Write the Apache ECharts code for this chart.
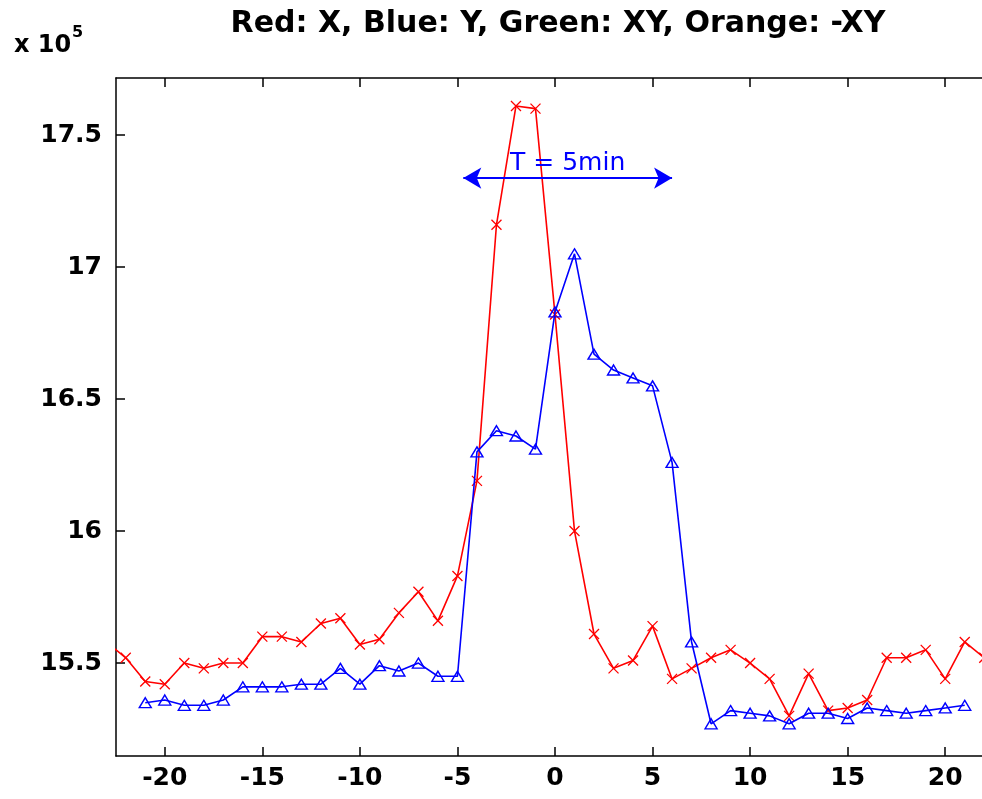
<!DOCTYPE html>
<html>
<head>
<meta charset="utf-8">
<script src="https://cdn.jsdelivr.net/npm/echarts@6/dist/echarts.min.js"></script>
<style>
  html, body { margin: 0; padding: 0; background: #fff; }
  #chart { width: 982px; height: 799px; }
</style>
</head>
<body>
<div id="chart"></div>
<script>
// Time offsets (minutes) for each trace
const timeX = [-23, -22, -21, -20, -19, -18, -17, -16, -15, -14, -13, -12, -11, -10, -9, -8, -7, -6, -5, -4, -3, -2, -1,
  0, 1, 2, 3, 4, 5, 6, 7, 8, 9, 10, 11, 12, 13, 14, 15, 16, 17, 18, 19, 20, 21, 22];
const timeY = [-21, -20, -19, -18, -17, -16, -15, -14, -13, -12, -11, -10, -9, -8, -7, -6, -5, -4, -3, -2, -1,
  0, 1, 2, 3, 4, 5, 6, 7, 8, 9, 10, 11, 12, 13, 14, 15, 16, 17, 18, 19, 20, 21];

// Values in units of 1e5
const valuesX = [15.58, 15.52, 15.43, 15.42, 15.50, 15.48, 15.50, 15.50, 15.60, 15.60, 15.58, 15.65, 15.67, 15.57, 15.59,
  15.69, 15.77, 15.66, 15.83, 16.19, 17.16, 17.61, 17.60, 16.82, 16.00, 15.61, 15.48, 15.51, 15.64, 15.44, 15.48,
  15.52, 15.55, 15.50, 15.44, 15.30, 15.46, 15.32, 15.33, 15.36, 15.52, 15.52, 15.55, 15.44, 15.58, 15.52];
const valuesY = [15.35, 15.36, 15.34, 15.34, 15.36, 15.41, 15.41, 15.41, 15.42, 15.42, 15.48, 15.42, 15.49, 15.47, 15.50,
  15.45, 15.45, 16.30, 16.38, 16.36, 16.31, 16.83, 17.05, 16.67, 16.61, 16.58, 16.55, 16.26, 15.58, 15.27, 15.32,
  15.31, 15.30, 15.27, 15.31, 15.31, 15.29, 15.33, 15.32, 15.31, 15.32, 15.33, 15.34];

// Axis ticks
const xTicks = [-20, -15, -10, -5, 0, 5, 10, 15, 20];
const yTicks = [15.5, 16, 16.5, 17, 17.5];

// Period span annotation
const spanStart = -4.7;
const spanEnd = 6.0;
const spanLevel = 17.337;
const spanText = 'T = 5min';

const titleText = 'Red: X, Blue: Y, Green: XY, Orange: -XY';

const pairs = (xs, vs) => xs.map((x, i) => [x, vs[i]]);

const tickFont = 'DejaVu Sans';
const chart = echarts.init(document.getElementById('chart'), null, { renderer: 'canvas' });

const axisLine = { show: true, onZero: false, lineStyle: { color: '#000', width: 1.5 } };

chart.setOption({
  animation: false,
  backgroundColor: '#fff',
  title: {
    text: titleText,
    left: 553,
    textAlign: 'center',
    top: 4,
    textStyle: { fontFamily: tickFont, fontWeight: 'bold', fontSize: 30, color: '#000' }
  },
  // the plot box runs slightly past the right edge of the canvas
  grid: { left: 116, top: 78, width: 878, height: 678, show: false, outerBoundsMode: 'none', containLabel: false },
  xAxis: [
    {
      type: 'value', min: -22.5, max: 22.5, position: 'bottom',
      axisLine: axisLine,
      axisTick: { show: true, inside: true, length: 9, customValues: xTicks, lineStyle: { color: '#000', width: 1.5 } },
      axisLabel: { customValues: xTicks, margin: 10, color: '#000', fontFamily: tickFont, fontWeight: 'bold', fontSize: 25 },
      splitLine: { show: false }
    },
    {
      type: 'value', min: -22.5, max: 22.5, position: 'top',
      axisLine: axisLine,
      axisTick: { show: true, inside: true, length: 9, customValues: xTicks, lineStyle: { color: '#000', width: 1.5 } },
      axisLabel: { show: false },
      splitLine: { show: false }
    }
  ],
  yAxis: {
    type: 'value', min: 15.148, max: 17.716,
    axisLine: axisLine,
    axisTick: { show: true, inside: true, length: 9, customValues: yTicks, lineStyle: { color: '#000', width: 1.5 } },
    axisLabel: { customValues: yTicks, margin: 14, color: '#000', fontFamily: tickFont, fontWeight: 'bold', fontSize: 25 },
    splitLine: { show: false }
  },
  graphic: [
    { type: 'text', left: 14, top: 34, style: { text: 'x 10', font: 'bold 24px "DejaVu Sans"', fill: '#000' } },
    { type: 'text', left: 72, top: 25, style: { text: '5', font: 'bold 16px "DejaVu Sans"', fill: '#000' } }
  ],
  series: [
    {
      name: 'X', type: 'line', xAxisIndex: 0,
      data: pairs(timeX, valuesX),
      symbol: 'path://M0,0L10,10M10,0L0,10',
      symbolSize: 10,
      showAllSymbol: true,
      lineStyle: { color: '#ff0000', width: 1.6 },
      itemStyle: { color: 'rgba(0,0,0,0)', borderColor: '#ff0000', borderWidth: 1.3 },
      emphasis: { disabled: true },
      z: 3
    },
    {
      name: 'Y', type: 'line', xAxisIndex: 0,
      data: pairs(timeY, valuesY),
      symbol: 'triangle',
      symbolSize: [12, 10],
      showAllSymbol: true,
      lineStyle: { color: '#0000ff', width: 1.6 },
      itemStyle: { color: 'rgba(0,0,0,0)', borderColor: '#0000ff', borderWidth: 1.4 },
      emphasis: { disabled: true },
      z: 4,
      markLine: {
        silent: true,
        symbol: ['arrow', 'arrow'],
        symbolSize: [16, 18],
        lineStyle: { color: '#0000ff', width: 2, type: 'solid' },
        label: {
          show: true, position: 'middle', formatter: spanText, distance: 2,
          color: '#0000ff', fontFamily: tickFont, fontSize: 25
        },
        data: [[{ coord: [spanStart, spanLevel] }, { coord: [spanEnd, spanLevel] }]]
      }
    }
  ]
});
</script>
</body>
</html>
